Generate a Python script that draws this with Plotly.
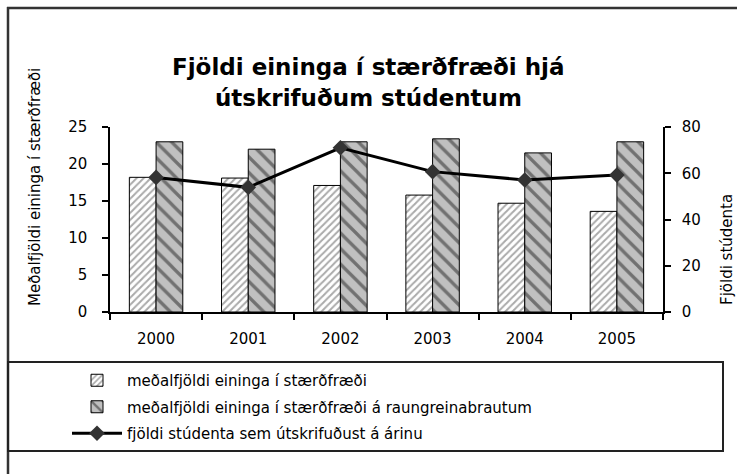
import plotly.graph_objects as go

years = ["2000", "2001", "2002", "2003", "2004", "2005"]
avg_units = [18.2, 18.1, 17.1, 15.8, 14.7, 13.6]
avg_units_science = [23.0, 22.0, 23.0, 23.4, 21.5, 23.0]
graduates = [58.2, 53.9, 71.0, 60.7, 57.1, 59.2]

title_line1 = "Fjöldi eininga í stærðfræði hjá"
title_line2 = "útskrifuðum stúdentum"
left_title = "Meðalfjöldi eininga í stærðfræði"
right_title = "Fjöldi stúdenta"
names = [
    "meðalfjöldi eininga í stærðfræði",
    "meðalfjöldi eininga í stærðfræði á raungreinabrautum",
    "fjöldi stúdenta sem útskrifuðust á árinu",
]

W, H = 737, 474
L, R, T, B = 110, 74, 127, 162
PW = W - L - R
PH = H - T - B


def px(x):
    return (x - L) / PW


def py(y):
    return (H - B - y) / PH


FONT = "DejaVu Sans"

fig = go.Figure()
fig.add_trace(go.Bar(
    x=years, y=avg_units, name=names[0], legendgroup="a",
    marker=dict(color="white", line=dict(color="black", width=1),
                pattern=dict(shape="/", fgcolor="#555555", bgcolor="white",
                             size=5, solidity=0.4)),
))
fig.add_trace(go.Bar(
    x=years, y=avg_units_science, name=names[1], legendgroup="b",
    marker=dict(color="#c0c0c0", line=dict(color="black", width=1),
                pattern=dict(shape="\\", fgcolor="#222222", bgcolor="#c0c0c0",
                             size=11, solidity=0.3)),
))
fig.add_trace(go.Scatter(
    x=years, y=graduates, name=names[2], yaxis="y2", mode="lines+markers",
    legendgroup="c",
    line=dict(color="black", width=3),
    marker=dict(symbol="diamond", size=12, color="#333333"),
))

fig.update_layout(
    width=W, height=H,
    margin=dict(l=L, r=R, t=T, b=B, autoexpand=False),
    paper_bgcolor="white", plot_bgcolor="white",
    barmode="group", bargap=0.42, bargroupgap=0,
    font=dict(family=FONT, color="black", size=14),
    showlegend=True,
    legend=dict(
        x=px(67), y=py(364), xanchor="left", yanchor="top",
        bgcolor="rgba(0,0,0,0)", borderwidth=0,
        font=dict(family=FONT, size=15, color="black"),
        itemwidth=50, tracegroupgap=4, traceorder="grouped",
    ),
    xaxis=dict(
        showline=True, linecolor="black", linewidth=1.5,
        ticks="outside", ticklen=6, tickcolor="black", tickwidth=1.5,
        tickson="boundaries", ticklabelstandoff=12,
        tickfont=dict(family=FONT, size=15), showgrid=False,
    ),
    yaxis=dict(
        range=[0, 25], dtick=5, showline=True, linecolor="black", linewidth=1.5,
        ticks="outside", ticklen=6, tickcolor="black", tickwidth=1.5,
        ticklabelstandoff=12, showgrid=False, zeroline=False,
        tickfont=dict(family=FONT, size=15),
    ),
    yaxis2=dict(
        range=[0, 80], dtick=20, overlaying="y", side="right",
        showline=True, linecolor="black", linewidth=1.5,
        ticks="outside", ticklen=6, tickcolor="black", tickwidth=1.5,
        ticklabelstandoff=8, showgrid=False, zeroline=False,
        tickfont=dict(family=FONT, size=15),
    ),
    shapes=[
        dict(type="line", xref="paper", yref="paper", x0=px(7), x1=px(740), y0=py(8), y1=py(8),
             line=dict(color="#333333", width=2.5)),
        dict(type="line", xref="paper", yref="paper", x0=px(8), x1=px(8), y0=py(7), y1=py(480),
             line=dict(color="#333333", width=2.5)),
        dict(type="rect", xref="paper", yref="paper", x0=px(8), x1=px(723), y0=py(362), y1=py(451),
             line=dict(color="#222222", width=2), fillcolor="rgba(0,0,0,0)", layer="above"),
    ],
    annotations=[
        dict(text=title_line1, xref="paper", yref="paper", x=px(368), y=py(67),
             xanchor="center", yanchor="middle", showarrow=False,
             font=dict(family=FONT, size=23, color="black", weight="bold")),
        dict(text=title_line2, xref="paper", yref="paper", x=px(368), y=py(98),
             xanchor="center", yanchor="middle", showarrow=False,
             font=dict(family=FONT, size=23, color="black", weight="bold")),
        dict(text=left_title, xref="paper", yref="paper", x=px(35), y=py(187),
             xanchor="center", yanchor="middle", textangle=-90, showarrow=False,
             font=dict(family=FONT, size=15, color="black")),
        dict(text=right_title, xref="paper", yref="paper", x=px(727), y=py(250),
             xanchor="center", yanchor="middle", textangle=-90, showarrow=False,
             font=dict(family=FONT, size=15, color="black")),
    ],
)

fig.write_html(
    "out.html",
    config={"displayModeBar": False},
    post_script="document.body.style.margin='0';document.body.style.overflow='hidden';",
)
